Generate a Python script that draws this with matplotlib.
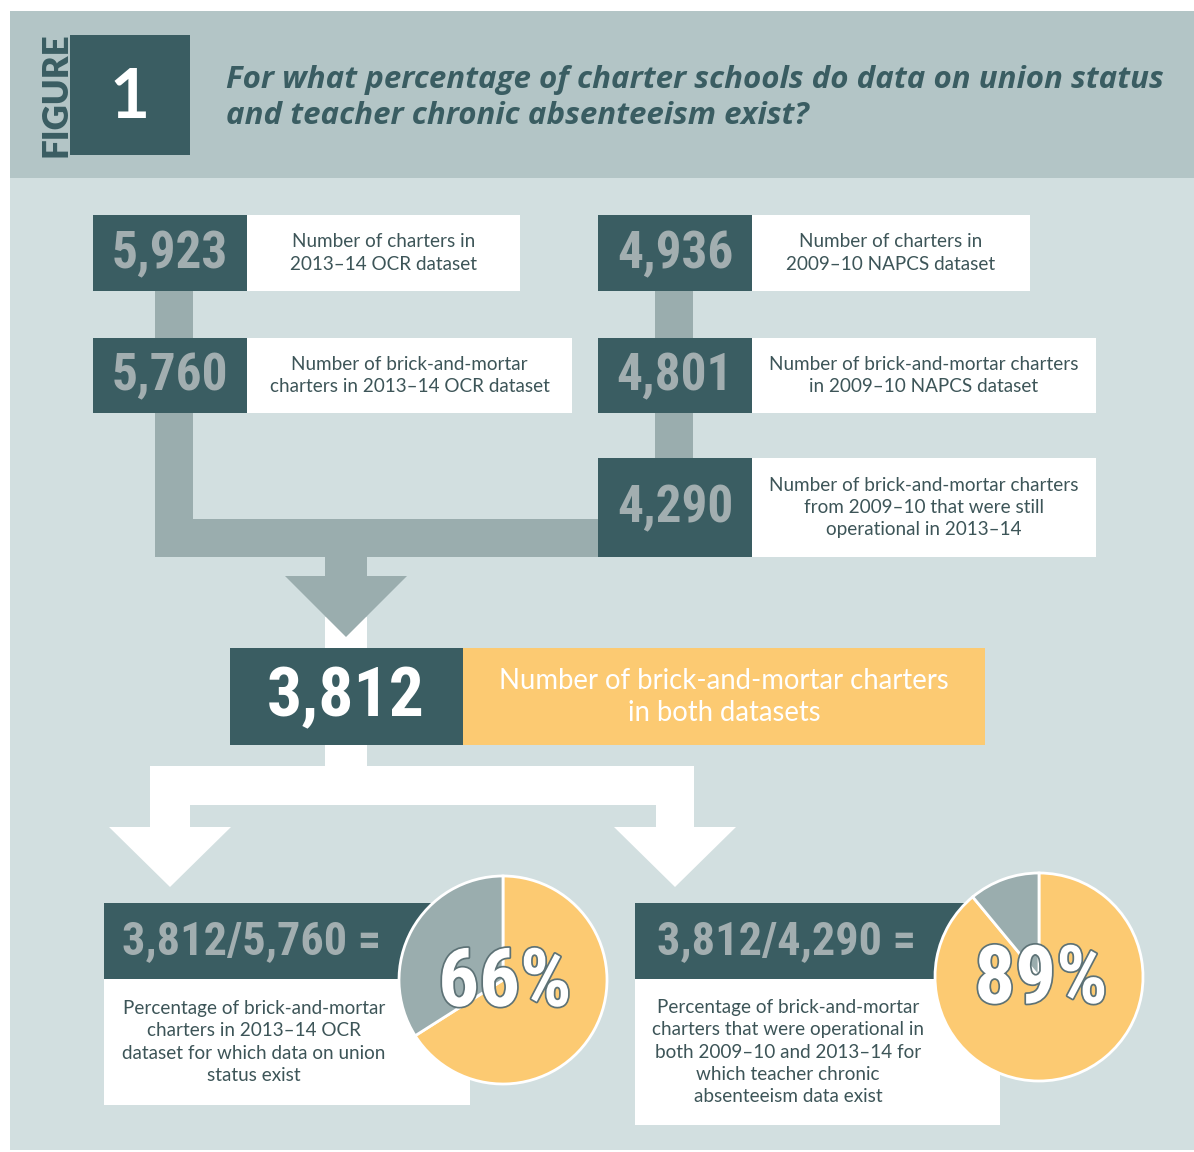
import matplotlib.pyplot as plt
from matplotlib.patches import Rectangle, Polygon
from matplotlib import font_manager as fm
import matplotlib.patheffects as pe

# numbers shown in the boxes
ocr_total = 5923
ocr_brick = 5760
napcs_total = 4936
napcs_brick = 4801
napcs_still_open = 4290
both_datasets = 3812

box_labels = {
    'ocr_total': "Number of charters in\n2013\u201314 OCR dataset",
    'ocr_brick': "Number of brick-and-mortar\ncharters in 2013\u201314 OCR dataset",
    'napcs_total': "Number of charters in\n2009\u201310 NAPCS dataset",
    'napcs_brick': "Number of brick-and-mortar charters\nin 2009\u201310 NAPCS dataset",
    'napcs_open': "Number of brick-and-mortar charters\nfrom 2009\u201310 that were still\noperational in 2013\u201314",
    'both': "Number of brick-and-mortar charters\nin both datasets",
}

# pie shares (percent with data)
pie_shares = [66, 89]
pie_numerators = [both_datasets, both_datasets]
pie_denominators = [ocr_brick, napcs_still_open]
pie_texts = [
    "Percentage of brick-and-mortar\ncharters in 2013\u201314 OCR\ndataset for which data on union\nstatus exist",
    "Percentage of brick-and-mortar\ncharters that were operational in\nboth 2009\u201310 and 2013\u201314 for\nwhich teacher chronic\nabsenteeism data exist",
]

title = ("For what percentage of charter schools do data on union status\n"
         "and teacher chronic absenteeism exist?")

# colours
bg_body = '#d2dfe0'
bg_head = '#b3c5c6'
dark = '#3a5d62'
num_gray = '#a2aeb0'
conn = '#9aadae'
yellow = '#fcca72'
text_col = '#3d5558'

body_font = ['Lato', 'DejaVu Sans']
title_font = ['Open Sans', 'Lato', 'DejaVu Sans']


# look for a narrow bold face for the big numbers
def find_narrow():
    prefs = ['Liberation Sans Narrow', 'Roboto Condensed', 'Open Sans Condensed',
             'DejaVu Sans Condensed', 'Noto Sans Condensed']
    cands = []
    for f in fm.fontManager.ttflist:
        w = f.weight if isinstance(f.weight, int) else fm.weight_dict.get(f.weight, 400)
        narrow = ('Narrow' in f.name or 'Condensed' in f.name
                  or 'condensed' in str(f.stretch) or 'Condensed' in f.fname)
        if narrow and w >= 600 and f.style == 'normal':
            rank = next((i for i, p in enumerate(prefs) if p in f.name), len(prefs))
            cands.append((rank, abs(w - 700), f.fname))
    if cands:
        cands.sort()
        return fm.FontProperties(fname=cands[0][2]), 1.0
    return fm.FontProperties(family='Liberation Sans', weight='bold'), 0.88


num_fp, squeeze = find_narrow()

fig = plt.figure(figsize=(11.94, 11.52), dpi=100)
fig.patch.set_facecolor('white')
ax = fig.add_axes([0, 0, 1, 1])


def rect(x0, y0, x1, y1, color, z=1):
    ax.add_patch(Rectangle((x0, y0), x1 - x0, y1 - y0, facecolor=color,
                           edgecolor='none', zorder=z))


def tri(pts, color, z=1):
    ax.add_patch(Polygon(pts, closed=True, facecolor=color, edgecolor='none', zorder=z))


def num_text(x, y, s, size, color, ha='center', **kw):
    return ax.text(x, y, s, fontproperties=num_fp, fontsize=size, color=color,
                   ha=ha, va='center', **kw)


# background panels
rect(10, 11, 1194, 1150, bg_body, 0)
rect(10, 11, 1194, 178, bg_head, 0)

# header
rect(70, 35, 190, 155, dark, 2)
ax.text(130, 98, "1", color='white', fontsize=50, fontweight='bold',
        family=body_font, ha='center', va='center', zorder=3)
ax.text(56, 95, "FIGURE", color=dark, fontsize=25, fontweight='heavy',
        family=body_font, ha='center', va='center', rotation=90, zorder=3)
ax.text(226, 98, title, color=dark, fontsize=22.5, fontweight='bold',
        style='italic', family=title_font, ha='left', va='center',
        linespacing=1.25, zorder=3)

# gray connectors
rect(155, 291, 193, 557, conn)
rect(155, 519, 600, 557, conn)
rect(655, 291, 693, 460, conn)
rect(325, 617, 367, 648, 'white', 1)
rect(325, 555, 367, 577, conn, 2)
tri([(285, 576), (407, 576), (346, 637)], conn, 2)

# white fork
rect(325, 745, 367, 805, 'white')
rect(150, 766, 694, 805, 'white')
rect(150, 766, 190, 828, 'white')
rect(656, 766, 694, 828, 'white')
tri([(109, 827), (231, 827), (170, 887)], 'white')
tri([(614, 827), (736, 827), (675, 887)], 'white')


def num_box(x0, y0, y1, x_text_end, value, label):
    rect(x0, y0, x0 + 154, y1, dark, 3)
    rect(x0 + 154, y0, x_text_end, y1, 'white', 3)
    num_text(x0 + 77, (y0 + y1) / 2 + 1, f"{value:,}", 37 * squeeze, num_gray,
             zorder=4)
    ax.text((x0 + 154 + x_text_end) / 2, (y0 + y1) / 2, label, color=text_col,
            fontsize=13.6, family=body_font, ha='center', va='center',
            linespacing=1.38, zorder=4)


num_box(93, 215, 291, 520, ocr_total, box_labels['ocr_total'])
num_box(93, 338, 413, 572, ocr_brick, box_labels['ocr_brick'])
num_box(598, 215, 291, 1030, napcs_total, box_labels['napcs_total'])
num_box(598, 338, 413, 1096, napcs_brick, box_labels['napcs_brick'])
num_box(598, 458, 557, 1096, napcs_still_open, box_labels['napcs_open'])

# middle box
rect(230, 648, 463, 745, dark, 3)
rect(463, 648, 985, 745, yellow, 3)
num_text(346, 698, f"{both_datasets:,}", 50 * squeeze, 'white', zorder=4)
ax.text(724, 697, box_labels['both'], color='white', fontsize=19.8,
        family=body_font, ha='center', va='center', linespacing=1.3, zorder=4)

# bottom panels with pies
panels = [
    dict(x0=104, x1=470, y_bottom=1105, cx=503, cy=980, fx=122, desc_x=254),
    dict(x0=635, x1=1000, y_bottom=1125, cx=1039, cy=977, fx=657, desc_x=788),
]
for p, share, num, den, desc in zip(panels, pie_shares, pie_numerators,
                                    pie_denominators, pie_texts):
    rect(p['x0'], 903, p['x1'], 979, dark, 3)
    rect(p['x0'], 979, p['x1'], p['y_bottom'], 'white', 3)
    num_text(p['fx'], 941, f"{num:,}/{den:,} =", 37 * squeeze * 0.9, num_gray,
             ha='left', zorder=4)
    ax.text(p['desc_x'], (979 + p['y_bottom']) / 2, desc, color=text_col,
            fontsize=13.6, family=body_font, ha='center', va='center',
            linespacing=1.38, zorder=4)
    # y axis is inverted: startangle -90 is the top, counterclock looks clockwise
    wedges, _ = ax.pie([share, 100 - share], colors=[yellow, conn],
                       center=(p['cx'], p['cy']), radius=104, startangle=-90,
                       counterclock=True, frame=True,
                       wedgeprops=dict(edgecolor='white', linewidth=2))
    for w in wedges:
        w.set_zorder(5)
    num_text(p['cx'] + 2, p['cy'] + 4, f"{share}%", 60 * squeeze * 0.97, 'white',
             zorder=6,
             path_effects=[pe.withStroke(linewidth=2.5, foreground='#5d7276')])

ax.set_xlim(0, 1194)
ax.set_ylim(1152, 0)
ax.set_aspect('auto')
ax.axis('off')

fig.savefig('out.png', dpi=100, facecolor=fig.get_facecolor())
